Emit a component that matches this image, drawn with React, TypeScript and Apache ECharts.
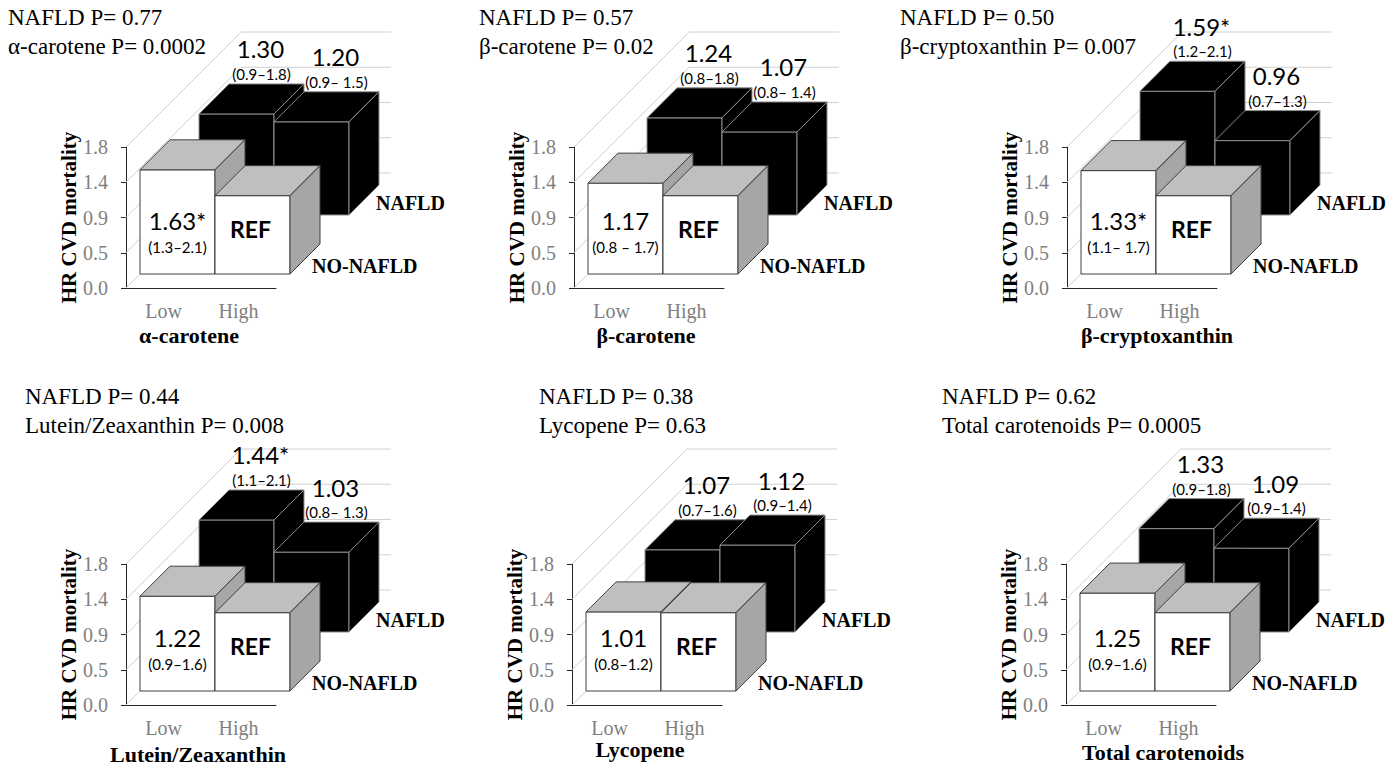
import React, { useEffect, useRef } from 'react';
import * as echarts from 'echarts';

// ---------- data ----------
const categories = ['Low', 'High'];
const yTicks = [0, 0.45, 0.9, 1.35, 1.8];
const nutrients = ['α-carotene', 'β-carotene', 'β-cryptoxanthin', 'Lutein/Zeaxanthin', 'Lycopene', 'Total carotenoids'];
const nafldP = ['0.77', '0.57', '0.50', '0.44', '0.38', '0.62'];
const nutrientP = ['0.0002', '0.02', '0.007', '0.008', '0.63', '0.0005'];

// bar heights as drawn (HR)
const noNafldLow = [1.33, 1.16, 1.32, 1.21, 1.01, 1.25];
const noNafldHigh = [1, 1, 1, 1, 1, 1];
const nafldLow = [1.29, 1.24, 1.58, 1.43, 1.05, 1.32];
const nafldHigh = [1.19, 1.06, 0.95, 1.02, 1.11, 1.07];

// printed labels
const noNafldLowText = ['1.63*', '1.17', '1.33*', '1.22', '1.01', '1.25'];
const noNafldLowCI = ['(1.3–2.1)', '(0.8 – 1.7)', '(1.1– 1.7)', '(0.9–1.6)', '(0.8–1.2)', '(0.9–1.6)'];
const noNafldHighText = ['REF', 'REF', 'REF', 'REF', 'REF', 'REF'];
const nafldLowText = ['1.30', '1.24', '1.59*', '1.44*', '1.07', '1.33'];
const nafldLowCI = ['(0.9–1.8)', '(0.8–1.8)', '(1.2–2.1)', '(1.1–2.1)', '(0.7–1.6)', '(0.9–1.8)'];
const nafldHighText = ['1.20', '1.07', '0.96', '1.03', '1.12', '1.09'];
const nafldHighCI = ['(0.9– 1.5)', '(0.8– 1.4)', '(0.7–1.3)', '(0.8– 1.3)', '(0.9–1.4)', '(0.9–1.4)'];
const rowNames = ['NO-NAFLD', 'NAFLD'];

// ---------- layout ----------
const axisX = [126, 574, 1067, 126, 572, 1066];
const axisTop = [147, 147, 147, 564, 564, 564];
const titleX = [8, 479, 900, 25, 539, 942];
const titleY = [17, 17, 17, 396, 396, 396];
const xTitleDx = [63, 72, 90, 72, 68, 97];
const xTitleDy = [47, 47, 47, 49, 44, 47];
const PLOT_W = 150;
const PLOT_H = 141;
const WALL = 115;
const ROW_FRONT = 14;
const ROW_BACK = 73;
const BAR_DEPTH = 30;

const SERIF = "'Liberation Serif', 'Times New Roman', serif";
const SANS = "Lato, 'Open Sans', sans-serif";

function buildOption() {
  const grids: any[] = [];
  const xAxes: any[] = [];
  const yAxes: any[] = [];
  const series: any[] = [];
  const graphics: any[] = [];

  for (let i = 0; i < 6; i++) {
    grids.push({ left: axisX[i], top: axisTop[i], width: PLOT_W, height: PLOT_H });
    xAxes.push({
      type: 'category',
      gridIndex: i,
      data: categories,
      axisLine: { show: true, lineStyle: { color: '#262626', width: 1 } },
      axisTick: { show: false },
      axisLabel: { color: '#7f7f7f', fontFamily: SERIF, fontSize: 20, lineHeight: 18, margin: 14 },
      splitLine: { show: false },
    });
    yAxes.push({
      type: 'value',
      gridIndex: i,
      min: 0,
      max: 1.8,
      interval: 0.45,
      axisLine: { show: true, lineStyle: { color: '#262626', width: 1 } },
      axisTick: { show: true, length: 5, lineStyle: { color: '#262626' } },
      splitLine: { show: false },
      axisLabel: {
        color: '#7f7f7f',
        fontFamily: SERIF,
        fontSize: 20,
        margin: 18,
        formatter: (v: number) => (Math.round(v * 100) / 100 + 1e-9).toFixed(1),
      },
      name: 'HR CVD mortality',
      nameLocation: 'middle',
      nameGap: 45,
      nameRotate: 90,
      nameTextStyle: { color: '#000', fontFamily: SERIF, fontSize: 21, fontWeight: 'bold' },
    });

    // walls (gridlines on side and back wall)
    series.push({
      type: 'custom',
      xAxisIndex: i,
      yAxisIndex: i,
      z: 1,
      silent: true,
      data: yTicks.map((t) => [0, t]),
      renderItem: (params: any, api: any) => {
        const cs = params.coordSys;
        const p = api.coord([0, api.value(1)]);
        const y = p[1];
        return {
          type: 'polyline',
          shape: {
            points: [
              [cs.x, y],
              [cs.x + WALL, y - WALL],
              [cs.x + WALL + cs.width, y - WALL],
            ],
          },
          style: { stroke: '#d0d0d0', lineWidth: 1, fill: null },
        };
      },
    });

    // bars: back row first, then front row
    const barData = [
      [0, nafldLow[i], 1],
      [1, nafldHigh[i], 1],
      [0, noNafldLow[i], 0],
      [1, noNafldHigh[i], 0],
    ];
    const barTexts = [
      [nafldLowText[i], nafldLowCI[i]],
      [nafldHighText[i], nafldHighCI[i]],
      [noNafldLowText[i], noNafldLowCI[i]],
      [noNafldHighText[i], ''],
    ];
    series.push({
      type: 'custom',
      xAxisIndex: i,
      yAxisIndex: i,
      z: 2,
      silent: true,
      data: barData,
      renderItem: (params: any, api: any) => {
        const cat = api.value(0);
        const val = api.value(1);
        const row = api.value(2);
        const topP = api.coord([cat, val]);
        const baseP = api.coord([cat, 0]);
        const bw = api.size([1, 0])[0];
        const back = row === 1;
        const d = back ? ROW_BACK : ROW_FRONT;
        const k = BAR_DEPTH;
        const xl = topP[0] - bw / 2 + d;
        const xr = topP[0] + bw / 2 + d;
        const yt = topP[1] - d;
        const yb = baseP[1] - d;
        const stroke = back ? '#8c8c8c' : '#404040';
        const children: any[] = [
          {
            type: 'rect',
            shape: { x: xl, y: yt, width: xr - xl, height: yb - yt },
            style: { fill: back ? '#000' : '#fff', stroke, lineWidth: 1 },
          },
          {
            type: 'polygon',
            shape: { points: [[xl, yt], [xl + k, yt - k], [xr + k, yt - k], [xr, yt]] },
            style: { fill: back ? '#000' : '#bfbfbf', stroke, lineWidth: 1 },
          },
          {
            type: 'polygon',
            shape: { points: [[xr, yt], [xr + k, yt - k], [xr + k, yb - k], [xr, yb]] },
            style: { fill: back ? '#000' : '#a6a6a6', stroke, lineWidth: 1 },
          },
        ];
        const [t1, t2] = barTexts[params.dataIndex];
        const cx = (xl + xr) / 2;
        if (back) {
          const lx = cx + k / 2 + 9;
          children.push({
            type: 'text', z2: 10,
            x: lx, y: yt - 65,
            style: { text: t1, fill: '#000', fontFamily: SANS, fontSize: 24, textAlign: 'center', textVerticalAlign: 'middle' },
          });
          children.push({
            type: 'text', z2: 10,
            x: lx + 1, y: yt - 40,
            style: { text: t2, fill: '#000', fontFamily: SANS, fontSize: 15, textAlign: 'center', textVerticalAlign: 'middle' },
          });
        } else if (t2) {
          children.push({
            type: 'text', z2: 10,
            x: cx, y: yb - 54,
            style: { text: t1, fill: '#000', fontFamily: SANS, fontSize: 24, textAlign: 'center', textVerticalAlign: 'middle' },
          });
          children.push({
            type: 'text', z2: 10,
            x: cx, y: yb - 27,
            style: { text: t2, fill: '#000', fontFamily: SANS, fontSize: 15, textAlign: 'center', textVerticalAlign: 'middle' },
          });
        } else {
          children.push({
            type: 'text', z2: 10,
            x: cx - 2, y: yb - 45,
            style: { text: t1, fill: '#000', fontFamily: SANS, fontSize: 23, fontWeight: 'bold', textAlign: 'center', textVerticalAlign: 'middle' },
          });
        }
        return { type: 'group', children };
      },
    });

    // texts
    const zeroY = axisTop[i] + PLOT_H;
    graphics.push({
      type: 'text', x: titleX[i], y: titleY[i],
      style: { text: `NAFLD P= ${nafldP[i]}`, fill: '#000', fontFamily: SERIF, fontSize: 23, textAlign: 'left', textVerticalAlign: 'middle' },
    });
    graphics.push({
      type: 'text', x: titleX[i], y: titleY[i] + 29,
      style: { text: `${nutrients[i]} P= ${nutrientP[i]}`, fill: '#000', fontFamily: SERIF, fontSize: 23, textAlign: 'left', textVerticalAlign: 'middle' },
    });
    graphics.push({
      type: 'text', x: axisX[i] + xTitleDx[i], y: zeroY + xTitleDy[i],
      style: { text: nutrients[i], fill: '#000', fontFamily: SERIF, fontSize: 22, lineHeight: 18, fontWeight: 'bold', textAlign: 'center', textVerticalAlign: 'middle' },
    });
    graphics.push({
      type: 'text', x: axisX[i] + 250, y: zeroY - 85,
      style: { text: rowNames[1], fill: '#000', fontFamily: SERIF, fontSize: 20, fontWeight: 'bold', textAlign: 'left', textVerticalAlign: 'middle' },
    });
    graphics.push({
      type: 'text', x: axisX[i] + 186, y: zeroY - 22,
      style: { text: rowNames[0], fill: '#000', fontFamily: SERIF, fontSize: 20, fontWeight: 'bold', textAlign: 'left', textVerticalAlign: 'middle' },
    });
  }

  return {
    animation: false,
    backgroundColor: '#fff',
    grid: grids,
    xAxis: xAxes,
    yAxis: yAxes,
    series,
    graphic: { elements: graphics },
  };
}

export default function App() {
  const ref = useRef<HTMLDivElement>(null);
  useEffect(() => {
    if (!ref.current) return;
    const chart = echarts.init(ref.current, undefined, { renderer: 'svg' });
    chart.setOption(buildOption() as any);
    return () => chart.dispose();
  }, []);
  return (
    <div
      ref={ref}
      style={{ position: 'fixed', left: 0, top: 0, width: 1398, height: 768, background: '#fff' }}
    />
  );
}
